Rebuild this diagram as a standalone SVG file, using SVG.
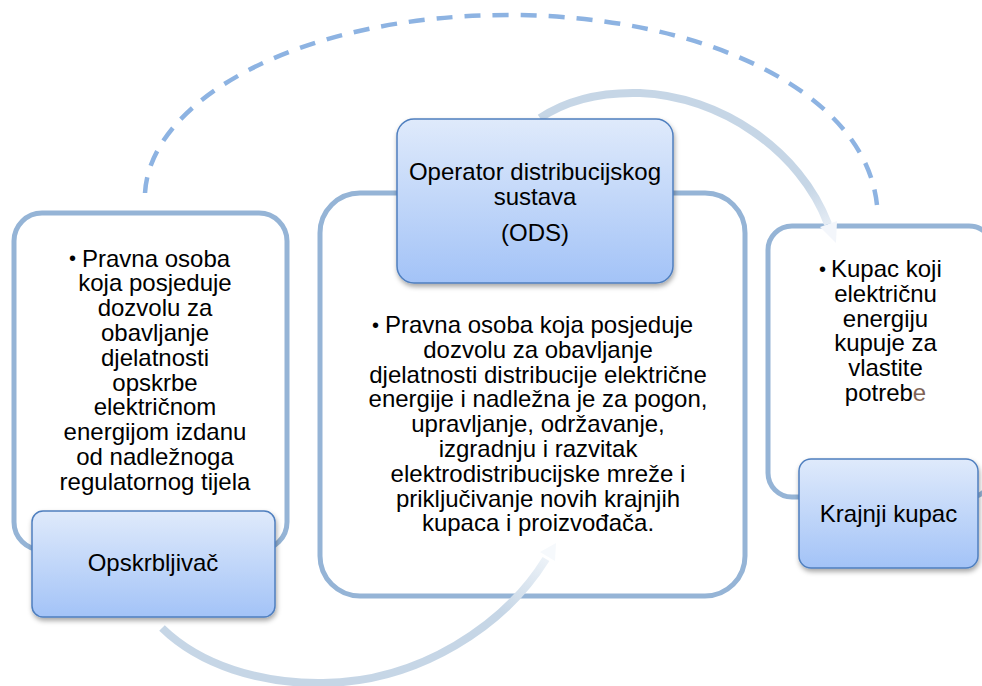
<svg xmlns="http://www.w3.org/2000/svg" width="982" height="686" viewBox="0 0 982 686">
<defs>
<linearGradient id="tg" x1="0" y1="0" x2="0" y2="1">
<stop offset="0" stop-color="#dfeafb"/>
<stop offset="1" stop-color="#a3c3f7"/>
</linearGradient>
<linearGradient id="arcB" gradientUnits="userSpaceOnUse" x1="505" y1="615" x2="556" y2="544">
<stop offset="0" stop-color="#c6d6e6"/>
<stop offset="1" stop-color="#f6f9fc"/>
</linearGradient>
<linearGradient id="arcT" gradientUnits="userSpaceOnUse" x1="812" y1="185" x2="836" y2="243">
<stop offset="0" stop-color="#c6d6e6"/>
<stop offset="1" stop-color="#f3f6fb"/>
</linearGradient>
<filter id="sh" x="-10%" y="-10%" width="120%" height="130%">
<feDropShadow dx="1" dy="3" stdDeviation="2.5" flood-color="#000" flood-opacity="0.35"/>
</filter>
<style>
.outer{fill:#fff;stroke:#95b4d6;stroke-width:5}
.title{fill:url(#tg);stroke:#4f7fbf;stroke-width:1.5;filter:url(#sh)}
text{font-family:"Liberation Sans",Arial,sans-serif;font-size:24px;fill:#000}
.c{text-anchor:middle}
.b{font-size:20px}
.dash{fill:none;stroke:#8db3e2;stroke-width:4.5;stroke-dasharray:16 12}
</style>
</defs>

<g id="outer-left"><rect class="outer" x="14" y="213" width="273" height="337" rx="28"/></g>
<g id="outer-ods"><rect class="outer" x="320" y="193" width="425" height="403" rx="40"/></g>
<g id="outer-right"><rect class="outer" x="768" y="226" width="225" height="271" rx="24"/></g>

<g id="connectors">
<path class="dash" d="M145,193 C150,100 300,15 509,15 C700,15 865,90 877,205"/>
<path d="M540,118 C570,98 605,92 640,93 C720,96 800,150 828,224" fill="none" stroke="url(#arcT)" stroke-width="8"/>
<polygon points="836,243 820,227 837,221" fill="#f3f6fb"/>
<path d="M162,628 C200,665 260,684 323,683 C420,682 505,625 546,559" fill="none" stroke="url(#arcB)" stroke-width="8"/>
<polygon points="556,543 540,552 555,561" fill="#f6f9fc"/>
</g>

<g id="text-left">
<text class="b" x="69" y="265">•</text>
<text x="82" y="266.5">Pravna osoba</text>
<text class="c" x="155" y="291.3">koja posjeduje</text>
<text class="c" x="155" y="316.1">dozvolu za</text>
<text class="c" x="155" y="340.9">obavljanje</text>
<text class="c" x="155" y="365.7">djelatnosti</text>
<text class="c" x="155" y="390.5">opskrbe</text>
<text class="c" x="155" y="415.3">električnom</text>
<text class="c" x="155" y="440.1">energijom izdanu</text>
<text class="c" x="155" y="464.9">od nadležnoga</text>
<text class="c" x="155" y="489.7">regulatornog tijela</text>
</g>

<g id="text-ods">
<text class="b" x="372" y="331.5">•</text>
<text x="385" y="333">Pravna osoba koja posjeduje</text>
<text class="c" x="538" y="357.8">dozvolu za obavljanje</text>
<text class="c" x="538" y="382.6">djelatnosti distribucije električne</text>
<text class="c" x="538" y="407.4">energije i nadležna je za pogon,</text>
<text class="c" x="538" y="432.2">upravljanje, održavanje,</text>
<text class="c" x="538" y="457">izgradnju i razvitak</text>
<text class="c" x="538" y="481.8">elektrodistribucijske mreže i</text>
<text class="c" x="538" y="506.6">priključivanje novih krajnjih</text>
<text class="c" x="538" y="531.4">kupaca i proizvođača.</text>
</g>

<g id="text-right">
<text class="b" x="819" y="275.5">•</text>
<text x="831" y="277">Kupac koji</text>
<text class="c" x="885.5" y="301.8">električnu</text>
<text class="c" x="885.5" y="326.6">energiju</text>
<text class="c" x="885.5" y="351.4">kupuje za</text>
<text class="c" x="885.5" y="376.2">vlastite</text>
<text class="c" x="885.5" y="401">potreb<tspan fill="#7f6356">e</tspan></text>
</g>

<g id="node-opskrbljivac">
<rect class="title" x="32" y="511" width="243" height="106" rx="11"/>
<text class="c" x="153" y="571">Opskrbljivač</text>
</g>

<g id="node-ods">
<rect class="title" x="397" y="119" width="276" height="164" rx="17"/>
<text class="c" x="535" y="180">Operator distribucijskog</text>
<text class="c" x="535" y="205">sustava</text>
<text class="c" x="535" y="241">(ODS)</text>
</g>

<g id="node-krajnji">
<rect class="title" x="799" y="459" width="179" height="109" rx="12"/>
<text class="c" x="888.5" y="522">Krajnji kupac</text>
</g>
</svg>
